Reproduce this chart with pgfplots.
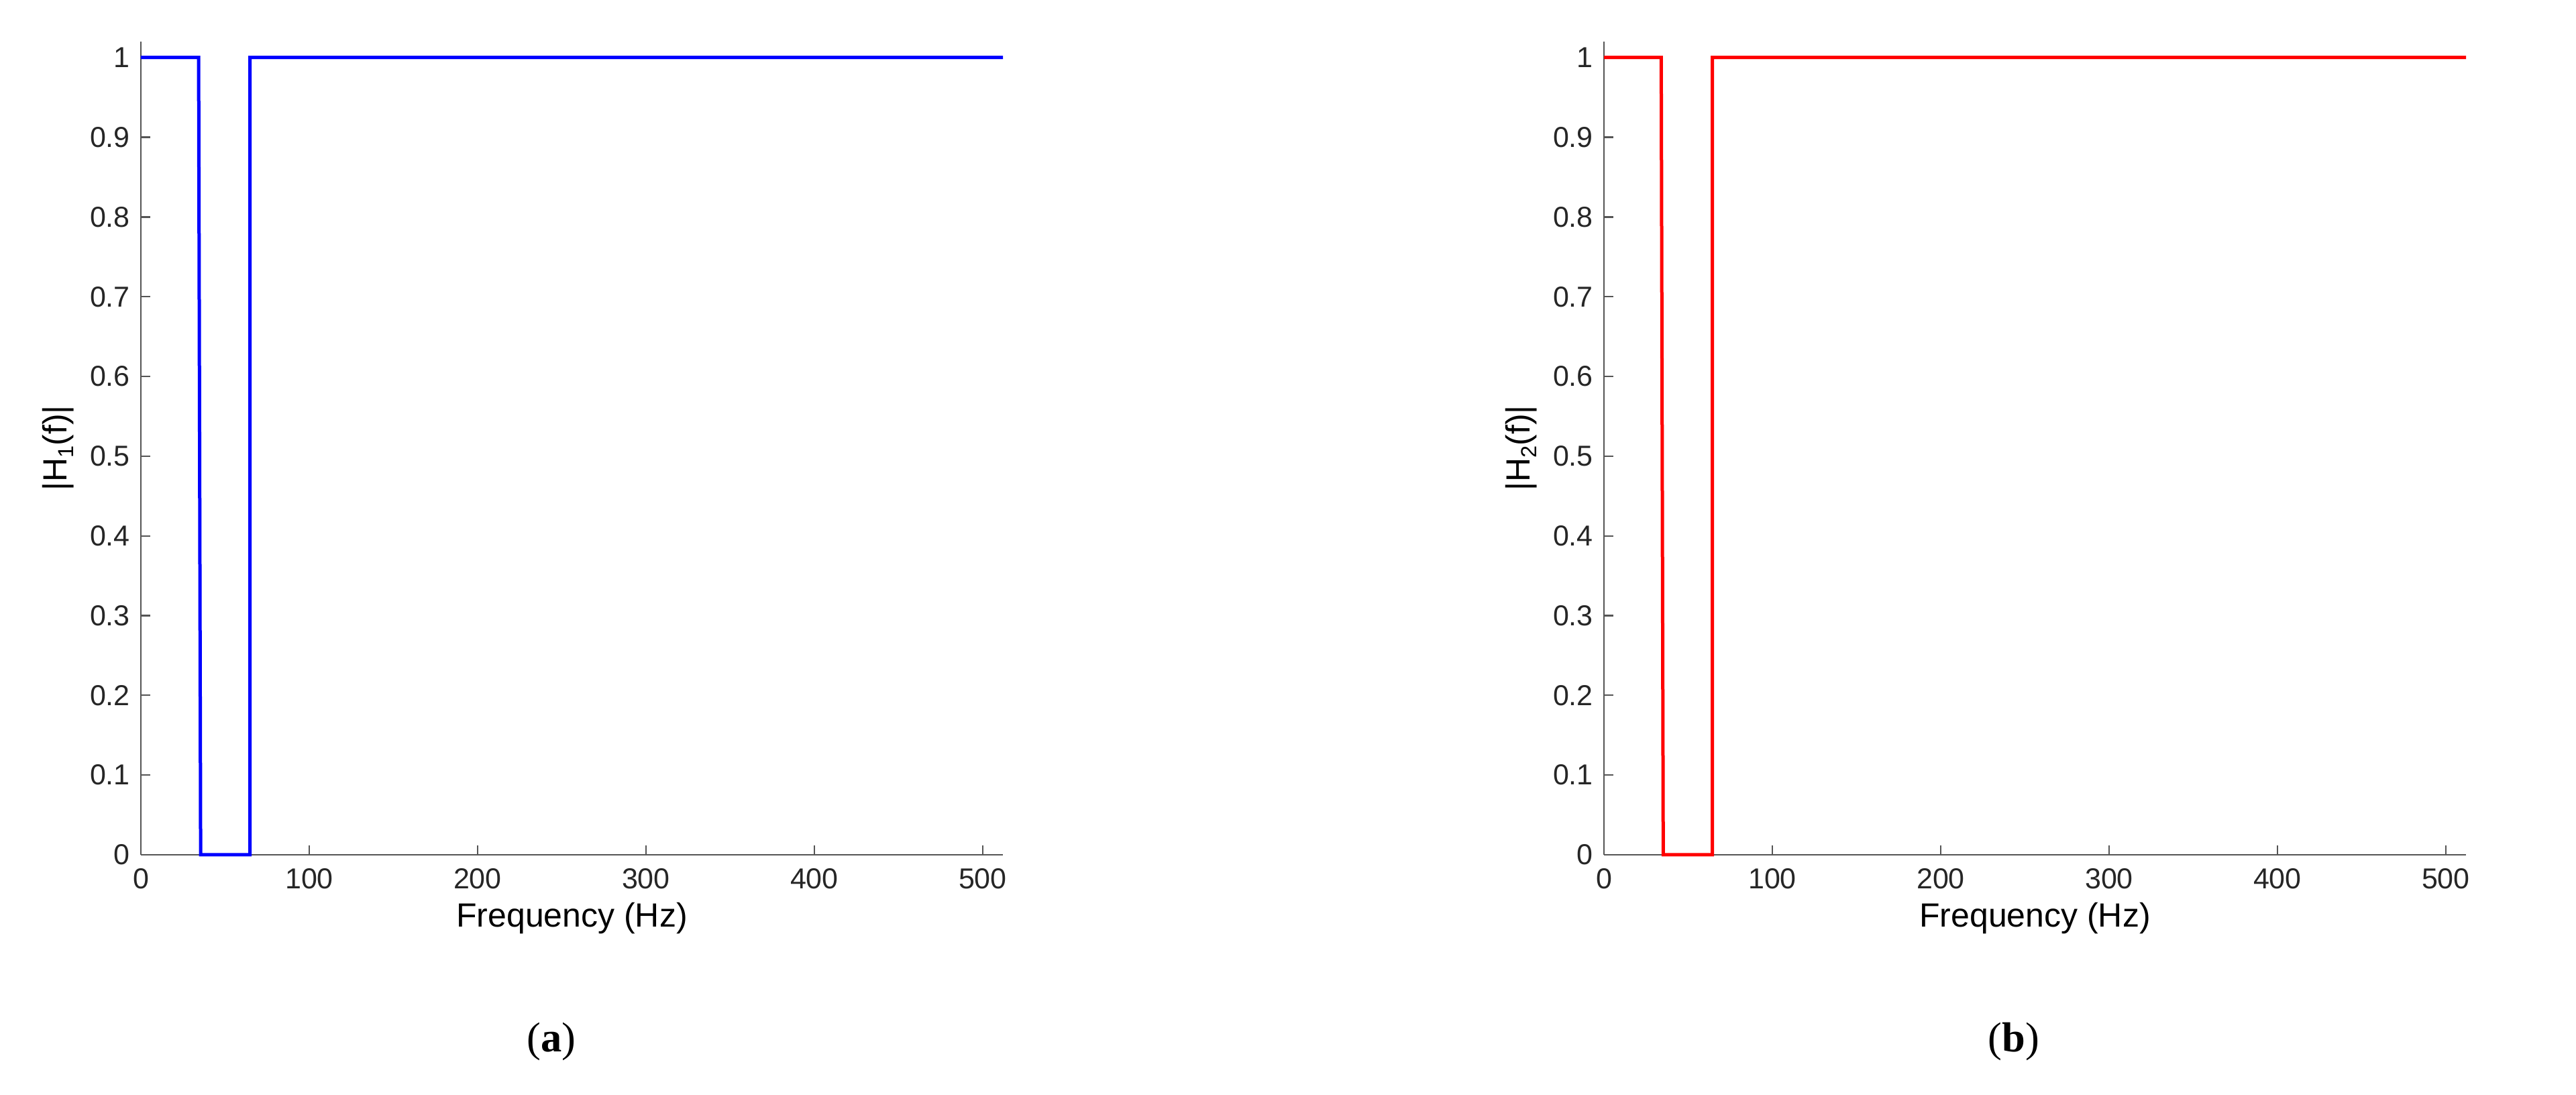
\documentclass[border=0pt]{standalone}
\usepackage{pgfplots}
\pgfplotsset{compat=1.18}
\usepackage{fontspec}
\setmainfont{Liberation Sans}
\newfontfamily\capfont{Liberation Serif}

\definecolor{axgray}{HTML}{555555}
\definecolor{txtgray}{HTML}{262626}

\pgfplotsset{
  filt/.style={
    scale only axis, width=257pt, height=242.4pt,
    xmin=0, xmax=512, ymin=0, ymax=1.02,
    axis x line=bottom, axis y line=left,
    axis line style={-, draw=axgray, line width=0.5pt},
    tick style={draw=axgray, line width=0.45pt},
    tick align=inside, major tick length=2.8pt,
    xtick={0,100,200,300,400,500},
    ytick={0,0.1,0.2,0.3,0.4,0.5,0.6,0.7,0.8,0.9,1},
    yticklabels={0,0.1,0.2,0.3,0.4,0.5,0.6,0.7,0.8,0.9,1},
    /pgf/number format/assume math mode=true,
    tick label style={font=\fontsize{8.6}{10}\selectfont, text=txtgray},
    yticklabel style={xshift=0.3pt},
    xticklabel style={yshift=-0.6pt},
    label style={font=\fontsize{8.6}{10}\selectfont, text=txtgray},
    every axis x label/.style={at={(axis description cs:0.5,-0.0784)}, anchor=center},
    every axis y label/.style={at={(axis description cs:-0.0957,0.5)}, rotate=90, anchor=center},
    xlabel={Frequency (Hz)},
    clip=false,
  }
}

\begin{document}
\begin{tikzpicture}
\useasboundingbox (0,0) rectangle (768pt,326.4pt);

% (a) filter 1
\begin{axis}[filt, at={(42pt,71.6pt)}, anchor=south west,
  ylabel={|H\raisebox{-0.35ex}{\fontsize{6.5}{7}\selectfont 1}(f)|}]
\addplot[blue, line width=1pt] coordinates {(0,1) (34.3,1) (35.5,0) (64.8,0) (64.8,1) (512,1)};
\end{axis}

% (b) filter 2
\begin{axis}[filt, at={(478.2pt,71.6pt)}, anchor=south west,
  ylabel={|H\raisebox{-0.35ex}{\fontsize{6.5}{7}\selectfont 2}(f)|}]
\addplot[red, line width=1pt] coordinates {(0,1) (34,1) (35.2,0) (64.4,0) (64.4,1) (512,1)};
\end{axis}

\node[anchor=base, font=\capfont\fontsize{12.5}{14}\selectfont] at (164.4pt,12.8pt) {(\textbf{a})};
\node[anchor=base, font=\capfont\fontsize{12.5}{14}\selectfont] at (600.4pt,12.8pt) {(\textbf{b})};
\end{tikzpicture}
\end{document}
